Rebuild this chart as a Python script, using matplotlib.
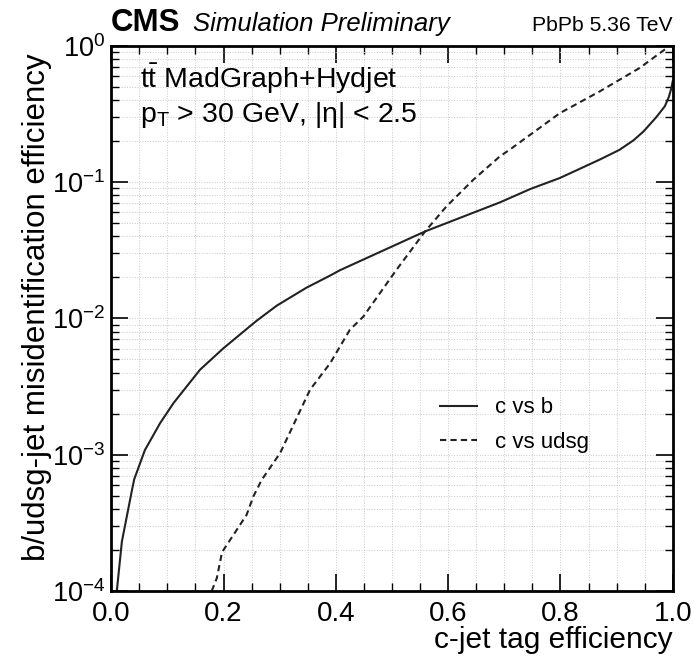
import matplotlib.pyplot as plt
from matplotlib.ticker import MultipleLocator, LogLocator, NullFormatter
import numpy as np

plt.rcParams['font.family'] = ['Liberation Sans', 'DejaVu Sans']
plt.rcParams['mathtext.fontset'] = 'custom'
plt.rcParams['mathtext.rm'] = 'Liberation Sans'
plt.rcParams['mathtext.it'] = 'Liberation Sans:italic'

# c-tag efficiency vs. b-jet mistag rate
eff_cb = [0.010, 0.019, 0.037, 0.041, 0.060, 0.087, 0.111, 0.158, 0.200, 0.259,
          0.295, 0.348, 0.390, 0.407, 0.559, 0.692, 0.746, 0.799, 0.870, 0.905,
          0.930, 0.948, 0.971, 0.986, 0.993, 0.997, 1.000]
mis_cb = [1.0e-4, 2.30e-4, 5.5e-4, 6.6e-4, 1.08e-3, 1.70e-3, 2.39e-3, 4.19e-3, 6.04e-3, 9.6e-3,
          1.24e-2, 1.68e-2, 2.06e-2, 2.25e-2, 4.34e-2, 7.08e-2, 8.87e-2, 0.107, 0.146, 0.172,
          0.202, 0.235, 0.300, 0.360, 0.420, 0.48, 0.55]

# c-tag efficiency vs. light-jet mistag rate
eff_cl = [0.179, 0.188, 0.197, 0.200, 0.241, 0.253, 0.268, 0.301, 0.354, 0.390,
          0.425, 0.449, 0.508, 0.559, 0.597, 0.645, 0.692, 0.710, 0.799, 0.870,
          0.941, 0.995]
mis_cl = [1.0e-4, 1.24e-4, 1.89e-4, 2.0e-4, 3.61e-4, 4.92e-4, 6.53e-4, 1.03e-3, 2.99e-3, 4.69e-3,
          8.24e-3, 1.03e-2, 2.27e-2, 4.34e-2, 6.62e-2, 0.104, 0.154, 0.173, 0.320, 0.462,
          0.686, 1.0]

fig = plt.figure(figsize=(6.95, 6.57), dpi=100)
ax = fig.add_axes([0.160, 0.1005, 0.808, 0.830])

ax.plot(eff_cb, mis_cb, '-', color='#222222', lw=1.5, label='c vs b')
ax.plot(eff_cl, mis_cl, '--', color='#222222', lw=1.5, dashes=(3, 2), label='c vs udsg')

ax.set_yscale('log')
ax.set_xlim(0, 1)
ax.set_ylim(1e-4, 1)

ax.xaxis.set_major_locator(MultipleLocator(0.2))
ax.xaxis.set_minor_locator(MultipleLocator(0.05))
ax.yaxis.set_major_locator(LogLocator(base=10, numticks=10))
ax.yaxis.set_minor_locator(LogLocator(base=10, subs=np.arange(2, 10), numticks=20))
ax.yaxis.set_minor_formatter(NullFormatter())
ax.xaxis.set_major_formatter(plt.FuncFormatter(lambda v, p: '%.1f' % v))

ax.tick_params(which='both', direction='in', top=True, right=True, labelsize=20)
ax.tick_params(axis='x', which='both', pad=7.5)
ax.tick_params(axis='y', which='both', pad=4, labelsize=19.5)
ax.tick_params(which='major', length=12, width=1.2)
ax.tick_params(which='minor', length=6, width=1.0)
for s in ax.spines.values():
    s.set_linewidth(2)

ax.grid(which='both', color='#c8c8c8', ls=':', lw=0.7)

ax.set_xlabel('c-jet tag efficiency', fontsize=21.5, ha='right')
ax.xaxis.set_label_coords(1.0, -0.064)
ax.set_ylabel('b/udsg-jet misidentification efficiency', fontsize=22.5, ha='right')
ax.yaxis.set_label_coords(-0.105, 0.985)

ax.text(0.0, 1.026, 'CMS', transform=ax.transAxes, fontsize=22.5, fontweight='bold',
        ha='left', va='baseline')
ax.text(0.145, 1.026, 'Simulation Preliminary', transform=ax.transAxes, fontsize=18.5,
        style='italic', ha='left', va='baseline')
ax.text(1.0, 1.026, 'PbPb 5.36 TeV', transform=ax.transAxes, fontsize=15.2,
        ha='right', va='baseline')

ax.text(0.052, 0.922, r't$\bar{\mathrm{t}}$ MadGraph+Hydjet', transform=ax.transAxes,
        fontsize=20.5, ha='left', va='baseline')
ax.text(0.052, 0.860, r'p$_\mathrm{T}$ > 30 GeV, |η| < 2.5', transform=ax.transAxes,
        fontsize=20.5, ha='left', va='baseline')

ax.legend(loc='upper left', bbox_to_anchor=(0.585, 0.355), frameon=False, fontsize=16,
          handlelength=1.67, labelspacing=0.6, handletextpad=0.8, borderpad=0,
          borderaxespad=0)

fig.savefig('out.png', dpi=100)
